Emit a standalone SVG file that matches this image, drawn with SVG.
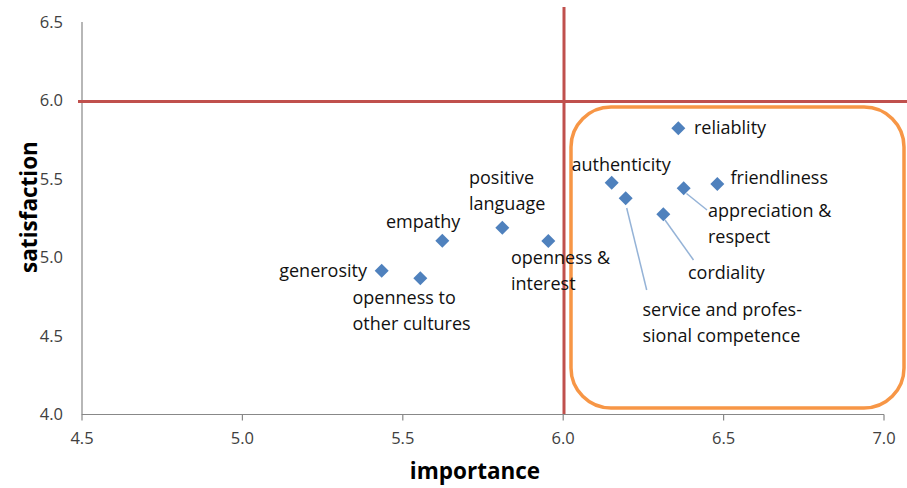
<svg xmlns="http://www.w3.org/2000/svg" width="907" height="488" viewBox="0 0 907 488">
<defs>
<style>
.tick{font-family:"Open Sans","Liberation Sans",sans-serif;font-size:16.5px;fill:#404040}
.lbl{font-family:"Open Sans","Liberation Sans",sans-serif;font-size:18px;fill:#111}
.title{font-family:"Open Sans","Liberation Sans",sans-serif;font-size:22.5px;font-weight:bold;fill:#000}
.axis{stroke:#888;stroke-width:1.2;fill:none}
.ref{stroke:#C0504D;stroke-width:3;fill:none}
.pt{fill:#4F81BD}
.lead{stroke:#95B3D7;stroke-width:1.5;fill:none}
</style>
<path id="dm" d="M0,-7 L7,0 L0,7 L-7,0 Z"/>
</defs>
<rect width="907" height="488" fill="#fff"/>
<g id="axes">
<path class="axis" d="M82,22 V414.5 H884"/>
<path class="axis" d="M82,414.5 v6 M242.4,414.5 v6 M402.8,414.5 v6 M563.2,414.5 v6 M723.6,414.5 v6 M884,414.5 v6"/>
<g class="tick" text-anchor="end">
<text x="63" y="27.5">6.5</text>
<text x="63" y="106">6.0</text>
<text x="63" y="184.5">5.5</text>
<text x="63" y="263">5.0</text>
<text x="63" y="341.5">4.5</text>
<text x="63" y="420">4.0</text>
</g>
<g class="tick" text-anchor="middle">
<text x="82" y="444">4.5</text>
<text x="242.4" y="444">5.0</text>
<text x="402.8" y="444">5.5</text>
<text x="563.2" y="444">6.0</text>
<text x="723.6" y="444">6.5</text>
<text x="884" y="444">7.0</text>
</g>
<text class="title" x="475" y="479" text-anchor="middle">importance</text>
<text class="title" transform="translate(37,207) rotate(-90)" text-anchor="middle">satisfaction</text>
</g>
<g id="reference-lines">
<path class="ref" d="M78,101.5 H907"/>
<path class="ref" d="M564,7 V414"/>
</g>
<g id="highlight-region">
<rect x="571" y="107" width="333" height="301" rx="40" ry="40" fill="none" stroke="#F79646" stroke-width="3.5"/>
</g>
<g id="connectors">
<path class="lead" d="M686.5,193.5 L707,210"/>
<path class="lead" d="M665,220 L693.5,260"/>
<path class="lead" d="M626.7,208 L646.7,290"/>
</g>
<g id="node-generosity"><use href="#dm" class="pt" x="381.7" y="270.7"/><text class="lbl" x="367" y="276.5" text-anchor="end">generosity</text></g>
<g id="node-openness-cultures"><use href="#dm" class="pt" x="420.3" y="278.3"/><text class="lbl" x="352.5" y="303.5">openness to</text><text class="lbl" x="352.5" y="329.5">other cultures</text></g>
<g id="node-empathy"><use href="#dm" class="pt" x="442.3" y="240.7"/><text class="lbl" x="386" y="227.5">empathy</text></g>
<g id="node-positive-language"><use href="#dm" class="pt" x="502.3" y="227.7"/><text class="lbl" x="469" y="183.5">positive</text><text class="lbl" x="469" y="209.5">language</text></g>
<g id="node-openness-interest"><use href="#dm" class="pt" x="548.3" y="241"/><text class="lbl" x="511" y="263.5">openness &amp;</text><text class="lbl" x="511" y="289.5">interest</text></g>
<g id="node-authenticity"><use href="#dm" class="pt" x="611.7" y="182.7"/><text class="lbl" x="571.5" y="170.5">authenticity</text></g>
<g id="node-service"><use href="#dm" class="pt" x="625.7" y="198.3"/><text class="lbl" x="642.5" y="315.5">service and profes-</text><text class="lbl" x="642.5" y="341.5">sional competence</text></g>
<g id="node-cordiality"><use href="#dm" class="pt" x="663.3" y="214.3"/><text class="lbl" x="688" y="279">cordiality</text></g>
<g id="node-appreciation"><use href="#dm" class="pt" x="683.7" y="188.3"/><text class="lbl" x="708" y="216.5">appreciation &amp;</text><text class="lbl" x="708" y="242.5">respect</text></g>
<g id="node-reliablity"><use href="#dm" class="pt" x="678.3" y="128.3"/><text class="lbl" x="694" y="134">reliablity</text></g>
<g id="node-friendliness"><use href="#dm" class="pt" x="717.3" y="184"/><text class="lbl" x="730.5" y="184">friendliness</text></g>
</svg>
